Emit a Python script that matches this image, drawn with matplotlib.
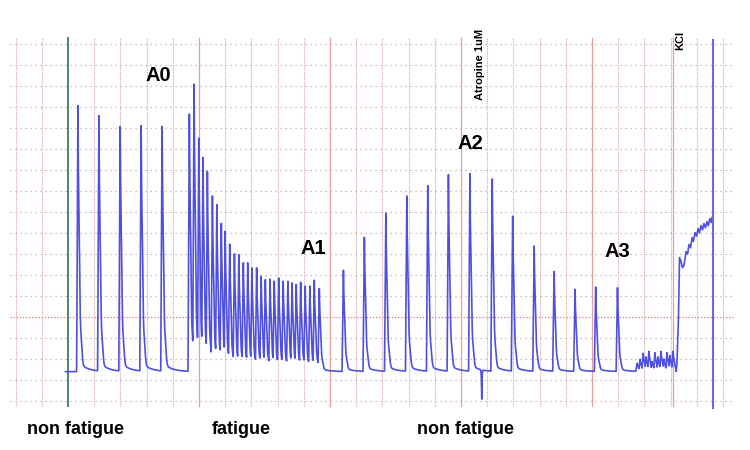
import numpy as np
import matplotlib.pyplot as plt

plt.rcParams['font.family'] = ['Liberation Sans', 'DejaVu Sans']

# time and tension are both in chart grid divisions
base_level = 1.4

rest1_times = [2.38, 3.18, 3.99, 4.79, 5.59]
rest1_amps = [12.67, 12.19, 12.10, 12.14, 12.10]

fatigue_times = [6.63, 6.81, 6.99, 7.15, 7.32, 7.51, 7.68, 7.85, 8.00, 8.17,
                 8.35, 8.52, 8.69, 8.86, 9.02, 9.20, 9.37, 9.53, 9.71, 9.87,
                 10.04, 10.21, 10.39, 10.55, 10.71, 10.88, 11.05, 11.23, 11.40, 11.59]
fatigue_amps = [12.71, 14.19, 11.52, 10.57, 9.54, 8.67, 7.95, 7.32, 6.68, 6.29,
                5.81, 5.57, 5.37, 5.18, 4.94, 4.94, 4.70, 4.54, 4.57, 4.46,
                4.46, 4.46, 4.46, 4.38, 4.30, 4.25, 4.22, 4.22, 4.35, 4.10]

rest2_times = [12.51, 13.31, 14.13, 14.93, 15.73, 16.52, 17.34, 18.19, 18.97, 19.79,
               20.55, 21.35, 22.14, 22.97]
rest2_amps = [5.00, 6.63, 7.82, 8.67, 9.18, 9.38, 9.43, 9.51, 7.67, 6.20,
              4.94, 4.06, 4.03, 4.14]

noise_times = [23.72, 23.83, 23.95, 24.06, 24.17, 24.29, 24.40, 24.52, 24.63,
               24.74, 24.86, 24.97, 25.09]
noise_amps = [0.4, 0.6, 0.9, 0.7, 1.0, 0.5, 0.9, 0.7, 1.0, 0.6, 0.9, 0.8, 1.0]

atropine_time = 17.79
artifact_depth = -1.7

kcl_times = [25.21, 25.24, 25.30, 25.34, 25.40, 25.45, 25.51, 25.59, 25.65, 25.70,
             25.76, 25.82, 25.87, 25.93, 25.99, 26.05, 26.10, 26.16, 26.22, 26.27,
             26.33, 26.39, 26.44, 26.50, 26.55, 26.58]
kcl_levels = [0.0, 0.33, 2.57, 5.43, 5.24, 4.95, 5.05, 5.71, 5.60, 6.05,
              5.90, 6.38, 6.20, 6.62, 6.45, 6.81, 6.60, 6.95, 6.75, 7.05,
              6.85, 7.14, 6.95, 7.29, 7.10, 7.33]

h_grid = list(range(18))
v_grid = list(range(28))
major_lines = [7, 12, 17, 22, 25.1]
stim_start = 2.0
end_marker = 26.62


def twitch(dt):
    # spike on top of a short plateau, then quick relaxation
    out = np.zeros_like(dt)
    rise = (dt > -0.05) & (dt <= 0)
    out[rise] = 1 + dt[rise] / 0.05
    fall = dt > 0
    d = dt[fall]
    out[fall] = (0.54 * np.exp(-d / 0.03)
                 + 0.30 / (1 + np.exp((d - 0.07) / 0.01))
                 + 0.12 / (1 + np.exp((d - 0.15) / 0.02))
                 + 0.04 * np.exp(-d / 0.3))
    return out


t = np.arange(1.9, 25.2, 0.004)
tension = np.zeros_like(t)
for times, amps in [(rest1_times, rest1_amps), (fatigue_times, fatigue_amps),
                    (rest2_times, rest2_amps), (noise_times, noise_amps)]:
    for ti, a in zip(times, amps):
        tension = np.maximum(tension, a * twitch(t - ti))
tension += artifact_depth * np.exp(-np.abs(t - atropine_time) / 0.01)

trace_t = np.concatenate([t, kcl_times])
trace_y = base_level + np.concatenate([tension, kcl_levels])

fig = plt.figure(figsize=(7.5, 4.5), dpi=100)
ax = fig.add_axes([0, 0, 1, 1])
ax.set_xlim(-0.595, 28.03)
ax.set_ylim(-2.333, 19.095)
ax.axis('off')

# grid
for k in h_grid:
    if k == 4:
        ax.plot([-0.2, 27.45], [k, k], color='#d07878', lw=0.9, ls=(0, (1, 1.5)), zorder=1)
    else:
        ax.plot([-0.2, 27.45], [k, k], color='#c9a6ac', lw=0.9, ls=(0, (1, 3)), zorder=1)
for v in v_grid:
    if v in major_lines or v == stim_start:
        continue
    ax.plot([v, v], [-0.25, 17.3], color='#d6a4a4', lw=0.8, ls=(0, (1, 1)), zorder=1)
for v in major_lines:
    ax.plot([v, v], [-0.25, 17.3], color='#e0a0a0', lw=0.9, zorder=1)

ax.plot([stim_start, stim_start], [-0.25, 17.3], color='#3d7a66', lw=1.3, zorder=2)
ax.plot(trace_t, trace_y, color='#4f4fe0', lw=1.2, zorder=3)
ax.plot([end_marker, end_marker], [-0.33, 17.19], color='#6a6ad8', lw=1.5, zorder=3)

label_kw = dict(fontsize=14.5, fontweight='bold', ha='center', va='center')
ax.text(5.44, 15.48, 'A0', **label_kw)
ax.text(11.35, 7.24, 'A1', **label_kw)
ax.text(17.34, 12.24, 'A2', **label_kw)
ax.text(22.95, 7.10, 'A3', **label_kw)

ax.text(17.72, 16.05, 'Atropine 1uM', rotation=90, fontsize=8, fontweight='bold',
        ha='center', va='center')
ax.text(25.36, 17.19, 'KCl', rotation=90, fontsize=8, fontweight='bold',
        ha='center', va='center')

bottom_kw = dict(fontsize=13, fontweight='bold', ha='center', va='center')
ax.text(2.27, -1.38, 'non fatigue', **bottom_kw)
ax.text(8.60, -1.38, 'fatigue', **bottom_kw)
ax.text(17.19, -1.38, 'non fatigue', **bottom_kw)

fig.savefig('out.png', dpi=100)
